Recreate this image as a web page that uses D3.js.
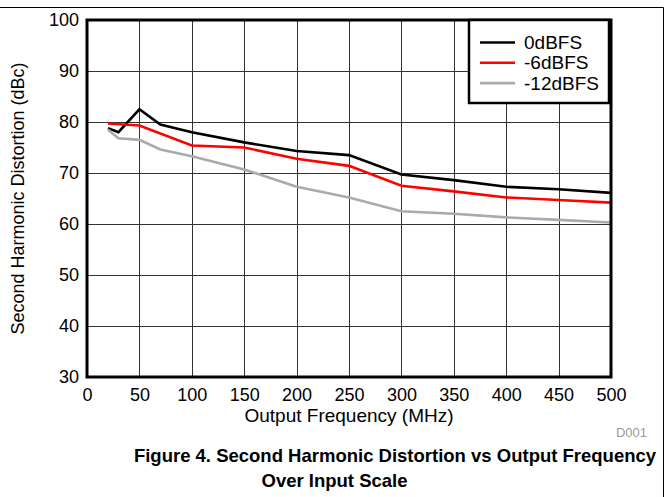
<!DOCTYPE html>
<html><head><meta charset="utf-8">
<script src="https://cdn.jsdelivr.net/npm/d3@7"></script>
<style>body{margin:0;background:#fff}svg{display:block;font-family:"Liberation Sans",Arial,sans-serif}</style>
</head><body>
<svg id="c" width="669" height="497"></svg>
<script>
const freq0 = [20, 30, 50, 70, 100, 150, 200, 250, 300, 350, 400, 450, 500];
const s0dBFS = [78.8, 78.0, 82.5, 79.5, 78.0, 76.0, 74.3, 73.5, 69.7, 68.6, 67.3, 66.8, 66.1];
const freq6 = [20, 50, 100, 150, 200, 250, 300, 350, 400, 450, 500];
const s6dBFS = [79.7, 79.3, 75.4, 75.0, 72.8, 71.4, 67.5, 66.4, 65.2, 64.7, 64.2];
const freq12 = [20, 30, 50, 70, 100, 150, 200, 250, 300, 350, 400, 450, 500];
const s12dBFS = [78.5, 76.8, 76.5, 74.6, 73.3, 70.7, 67.3, 65.2, 62.5, 62.0, 61.3, 60.8, 60.3];
const seriesNames = ["0dBFS", "-6dBFS", "-12dBFS"];
const xTicks = [0, 50, 100, 150, 200, 250, 300, 350, 400, 450, 500];
const yTicks = [30, 40, 50, 60, 70, 80, 90, 100];

const series = [
  {name: seriesNames[0], xs: freq0, ys: s0dBFS, color: "#000000"},
  {name: seriesNames[1], xs: freq6, ys: s6dBFS, color: "#ff0000"},
  {name: seriesNames[2], xs: freq12, ys: s12dBFS, color: "#aaaaaa"}
];

const svg = d3.select("#c");
const L = 87, R = 611, T = 20, B = 377;
const x = d3.scaleLinear().domain([0, 500]).range([L, R]);
const y = d3.scaleLinear().domain([30, 100]).range([B, T]);

// outer frame
svg.append("line").attr("x1", 0).attr("x2", 663.5).attr("y1", 7.5).attr("y2", 7.5).attr("stroke", "#000").attr("stroke-width", 1);
svg.append("line").attr("x1", 663.5).attr("x2", 663.5).attr("y1", 7.5).attr("y2", 497).attr("stroke", "#000").attr("stroke-width", 1);

// grid
const g = svg.append("g");
g.selectAll(".gx").data(xTicks).enter().append("line")
  .attr("x1", d => Math.round(x(d)) + 0.5).attr("x2", d => Math.round(x(d)) + 0.5)
  .attr("y1", T).attr("y2", B).attr("stroke", "#333").attr("stroke-width", 1);
g.selectAll(".gy").data(yTicks).enter().append("line")
  .attr("y1", d => Math.round(y(d)) + 0.5).attr("y2", d => Math.round(y(d)) + 0.5)
  .attr("x1", L).attr("x2", R).attr("stroke", "#333").attr("stroke-width", 1);

// axes labels via d3 axes
const xAxis = svg.append("g").attr("transform", `translate(0,${B})`)
  .call(d3.axisBottom(x).tickValues(xTicks).tickSize(0).tickPadding(11));
const yAxis = svg.append("g").attr("transform", `translate(${L},0)`)
  .call(d3.axisLeft(y).tickValues(yTicks).tickSize(0).tickPadding(8));
[xAxis, yAxis].forEach(a => {
  a.select(".domain").remove();
  a.selectAll("text").attr("font-size", 18).attr("fill", "#000").attr("font-family", "Liberation Sans, Arial, sans-serif");
});

// lines
const line = d3.line().x(d => x(d[0])).y(d => y(d[1]));
series.forEach(s => {
  svg.append("path").datum(s.xs.map((v, i) => [v, s.ys[i]]))
    .attr("d", line).attr("fill", "none").attr("stroke", s.color)
    .attr("stroke-width", 2.6).attr("stroke-linejoin", "miter");
});

// plot frame
svg.append("rect").attr("x", L).attr("y", T).attr("width", R - L).attr("height", B - T)
  .attr("fill", "none").attr("stroke", "#000").attr("stroke-width", 3);

// legend
const lg = svg.append("g");
lg.append("rect").attr("x", 469).attr("y", T).attr("width", 140).attr("height", 83)
  .attr("fill", "#fff").attr("stroke", "#000").attr("stroke-width", 2.5);
series.forEach((s, i) => {
  const yy = 42.5 + i * 20.3;
  lg.append("line").attr("x1", 480).attr("x2", 515).attr("y1", yy).attr("y2", yy)
    .attr("stroke", s.color).attr("stroke-width", 2.6);
  lg.append("text").attr("x", 524).attr("y", yy + 6.5).attr("font-size", 19).text(s.name);
});

// titles
svg.append("text").attr("x", 349).attr("y", 422).attr("text-anchor", "middle")
  .attr("font-size", 19).text("Output Frequency (MHz)");
svg.append("text").attr("transform", `translate(24,${(T + B) / 2}) rotate(-90)`)
  .attr("text-anchor", "middle").attr("font-size", 18).text("Second Harmonic Distortion (dBc)");
svg.append("text").attr("x", 647).attr("y", 437).attr("text-anchor", "end")
  .attr("font-size", 13).attr("fill", "#999").text("D001");

svg.append("text").attr("x", 395).attr("y", 462).attr("text-anchor", "middle")
  .attr("font-size", 18.5).attr("font-weight", "bold").text("Figure 4. Second Harmonic Distortion vs Output Frequency");
svg.append("text").attr("x", 334.5).attr("y", 487).attr("text-anchor", "middle")
  .attr("font-size", 18.5).attr("font-weight", "bold").text("Over Input Scale");
</script>
</body></html>
